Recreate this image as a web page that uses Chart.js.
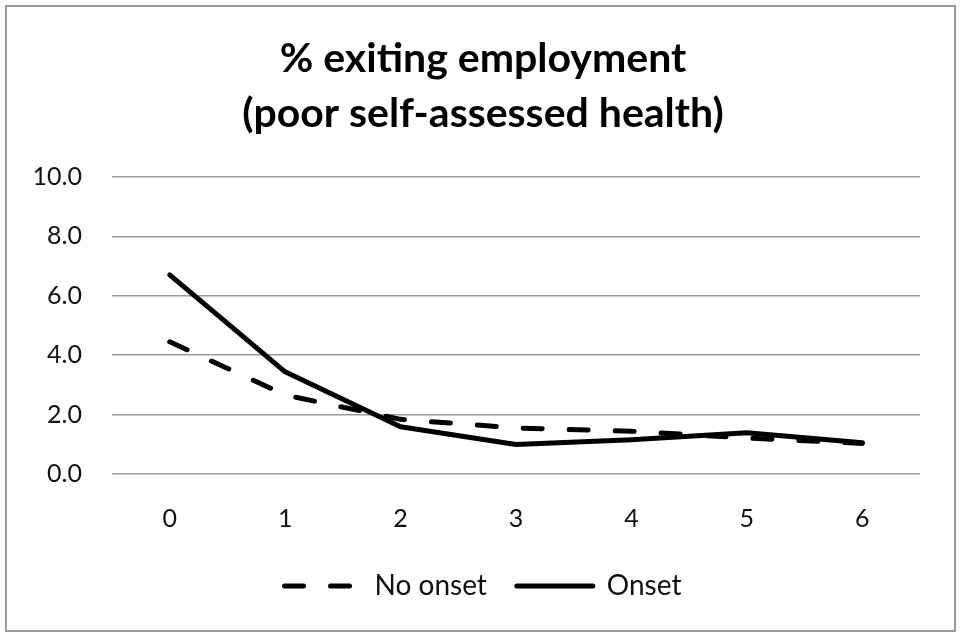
<!DOCTYPE html>
<html>
<head>
<meta charset="utf-8">
<script src="https://cdn.jsdelivr.net/npm/chart.js@4/dist/chart.umd.min.js"></script>
<style>
    html, body { margin: 0; padding: 0; background: #fff; }
    #wrap { position: relative; width: 960px; height: 640px; }
    #frame { position: absolute; left: 5px; top: 5px; width: 951px; height: 627px; border: 2px solid #9a9a9a; box-sizing: border-box; pointer-events: none; }
</style>
</head>
<body>
<div id="wrap">
    <canvas id="chart1" width="960" height="640"></canvas>
    <div id="frame"></div>
</div>
<script>
const labels = ['0', '1', '2', '3', '4', '5', '6'];
const noOnset = [4.45, 2.66, 1.84, 1.55, 1.44, 1.21, 1.03];
const onset = [6.70, 3.44, 1.59, 0.99, 1.15, 1.39, 1.05];
const yTicks = [0, 2, 4, 6, 8, 10];

Chart.defaults.font.family = 'Lato';
Chart.defaults.color = '#111';

const ctx = document.getElementById('chart1');
const chart1 = new Chart(ctx, {
    type: 'line',
    data: {
        labels: labels,
        datasets: [
            {
                label: 'No onset',
                data: noOnset,
                borderColor: '#000',
                backgroundColor: '#000',
                borderWidth: 5,
                borderDash: [19, 27],
                borderCapStyle: 'round',
                borderJoinStyle: 'round',
                pointRadius: 0,
                tension: 0
            },
            {
                label: 'Onset',
                data: onset,
                borderColor: '#000',
                backgroundColor: '#000',
                borderWidth: 5,
                borderCapStyle: 'round',
                borderJoinStyle: 'round',
                pointRadius: 0,
                tension: 0
            }
        ]
    },
    options: {
        responsive: false,
        animation: false,
        layout: {
            padding: { left: 30, right: 24, top: 31, bottom: 30 }
        },
        plugins: {
            title: {
                display: true,
                text: ['% exiting employment', '(poor self-assessed health)'],
                color: '#000',
                font: { size: 41, weight: 'bold', lineHeight: 1.34 },
                padding: { top: 0, bottom: 36 }
            },
            legend: {
                display: true,
                position: 'bottom',
                labels: {
                    usePointStyle: true,
                    pointStyle: 'line',
                    pointStyleWidth: 76,
                    color: '#111',
                    font: { size: 28 },
                    padding: 30,
                    // legend keeps the dash of each line
                    generateLabels: function (chart) {
                        const items = Chart.defaults.plugins.legend.labels.generateLabels(chart);
                        items.forEach(item => {
                            const ds = chart.data.datasets[item.datasetIndex];
                            item.lineDash = ds.borderDash || [];
                            item.lineWidth = 5;
                            item.lineCap = 'round';
                            item.strokeStyle = '#000';
                        });
                        return items;
                    }
                }
            },
            tooltip: { enabled: false }
        },
        scales: {
            x: {
                offset: true,
                grid: { display: false, drawTicks: false },
                border: { display: false },
                ticks: { padding: 30, font: { size: 25 }, color: '#111' },
                afterFit: function (scale) { scale.height = 68; }
            },
            y: {
                min: 0,
                max: 10,
                afterBuildTicks: function (scale) {
                    scale.ticks = yTicks.map(v => ({ value: v }));
                },
                grid: { color: '#9a9a9a', lineWidth: 1.5, drawTicks: false },
                border: { display: false },
                ticks: {
                    padding: 30,
                    font: { size: 25 },
                    color: '#111',
                    callback: v => Number(v).toFixed(1)
                },
                afterFit: function (scale) { scale.width = 82; }
            },
            // empty spacer on the right so the title sits where it does in the original
            yr: {
                position: 'right',
                min: 0,
                max: 10,
                grid: { display: false, drawTicks: false },
                border: { display: false },
                ticks: { display: false },
                afterFit: function (scale) { scale.width = 16; }
            }
        }
    }
});
</script>
</body>
</html>
